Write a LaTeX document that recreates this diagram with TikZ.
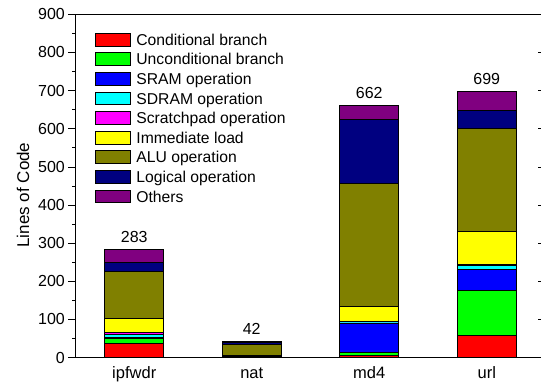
\documentclass[tikz,border=0pt]{standalone}
\usepackage{fontspec}
\setmainfont{Liberation Sans}
\usetikzlibrary{positioning}
\definecolor{condbr}{RGB}{255,0,0}
\definecolor{uncondbr}{RGB}{0,255,0}
\definecolor{sramop}{RGB}{0,0,255}
\definecolor{sdramop}{RGB}{0,255,255}
\definecolor{scratchop}{RGB}{255,0,255}
\definecolor{immload}{RGB}{255,255,0}
\definecolor{aluop}{RGB}{128,128,0}
\definecolor{logicop}{RGB}{0,0,128}
\definecolor{others}{RGB}{128,0,128}
\colorlet{seg1}{condbr}
\colorlet{seg2}{uncondbr}
\colorlet{seg3}{sramop}
\colorlet{seg4}{sdramop}
\colorlet{seg5}{scratchop}
\colorlet{seg6}{immload}
\colorlet{seg7}{aluop}
\colorlet{seg8}{logicop}
\colorlet{seg9}{others}
\begin{document}
\begin{tikzpicture}[x=1pt,y=1pt,node distance=19.6pt,font=\fontsize{16}{19}\selectfont]
		\tikzstyle{legbox}=[draw=black,line width=0.8pt,minimum width=35pt,minimum height=12.7pt,inner sep=0pt]
		\tikzstyle{legtext}=[inner sep=0pt,text height=11.4pt,text depth=0pt,font=\fontsize{15.7}{19}\selectfont]
		\tikzstyle{seg}=[draw=black,line width=0.8pt]
		\tikzstyle{ticklab}=[inner sep=0pt,anchor=east]
		\useasboundingbox (0,0) rectangle (541,381);
		% plot area, y in lines of code
		\begin{scope}[shift={(75.5,23.4)},y=0.3814pt]
			\foreach \cx/\vals/\barsum/\nm in {58.75/{38,12,2,9,4,37,123,25,33}/283/ipfwdr,
					176.25/{2,1,1,1,1,1,28,4,3}/42/nat,
					293.75/{6,7,77,4,0,41,322,167,38}/662/md4,
					411.25/{57,120,53,12,2,87,271,46,51}/699/url}{
				\gdef\segbase{0}
				\foreach \v [count=\k] in \vals {
					\pgfmathsetmacro\segtop{\segbase+\v}
					\draw[seg,fill=seg\k] (\cx-29.5,\segbase) rectangle (\cx+29.5,\segtop);
					\global\let\segbase\segtop
				}
				\node (sum-\nm) [anchor=base,inner sep=0pt,yshift=7pt] at (\cx,\segbase) {\barsum};
				\node (cat-\nm) [anchor=base,inner sep=0pt,font=\fontsize{16.5}{19}\selectfont] at (\cx,-53.5) {\nm};
			}
			% frame and ticks
			\draw[line width=0.8pt] (0,0) rectangle (470,900);
			\foreach \y in {0,100,...,900}{
				\draw[line width=0.8pt] (0,\y) -- (-7.5,\y);
				\draw[line width=0.8pt] (470,\y) -- (462.5,\y);
				\node (ytick-\y) [ticklab] at (-10.5,\y) {\y};
			}
			\foreach \y in {50,150,...,850}{
				\draw[line width=0.8pt] (0,\y) -- (-4,\y);
				\draw[line width=0.8pt] (470,\y) -- (466,\y);
			}
		\end{scope}
		\node (ylab) [rotate=90,anchor=base,inner sep=0pt,font=\fontsize{17}{20}\selectfont] at (29,186) {Lines of Code};
		% legend
		\node (c1) [legbox,fill=condbr] at (112.8,341.4) {};
		\node (c2) [legbox,fill=uncondbr,below of=c1] {};
		\node (c3) [legbox,fill=sramop,below of=c2] {};
		\node (c4) [legbox,fill=sdramop,below of=c3] {};
		\node (c5) [legbox,fill=scratchop,below of=c4] {};
		\node (c6) [legbox,fill=immload,below of=c5] {};
		\node (c7) [legbox,fill=aluop,below of=c6] {};
		\node (c8) [legbox,fill=logicop,below of=c7] {};
		\node (c9) [legbox,fill=others,below of=c8] {};
		\node (t1) [legtext,right=5.5pt of c1] {Conditional branch};
		\node (t2) [legtext,right=5.5pt of c2] {Unconditional branch};
		\node (t3) [legtext,right=5.5pt of c3] {SRAM operation};
		\node (t4) [legtext,right=5.5pt of c4] {SDRAM operation};
		\node (t5) [legtext,right=5.5pt of c5] {Scratchpad operation};
		\node (t6) [legtext,right=5.5pt of c6] {Immediate load};
		\node (t7) [legtext,right=5.5pt of c7] {ALU operation};
		\node (t8) [legtext,right=5.5pt of c8] {Logical operation};
		\node (t9) [legtext,right=5.5pt of c9] {Others};
\end{tikzpicture}
\end{document}
